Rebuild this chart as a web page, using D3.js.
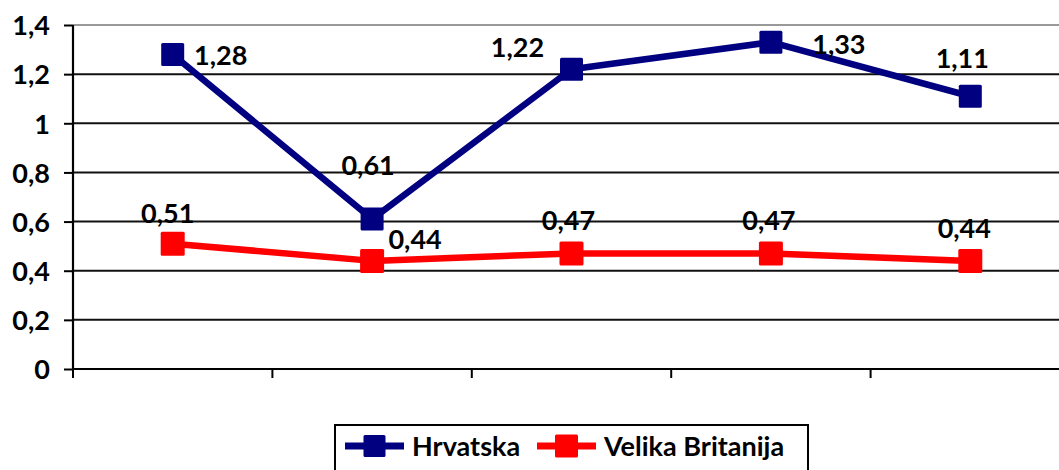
<!DOCTYPE html>
<html>
<head>
<meta charset="utf-8">
<script src="https://cdn.jsdelivr.net/npm/d3@7"></script>
<style>
  html, body { margin: 0; padding: 0; background: #fff; }
  svg { display: block; }
  text { font-family: Lato, "Open Sans", sans-serif; font-weight: bold; fill: #000; }
</style>
</head>
<body>
<svg id="chart" width="1059" height="470"></svg>
<script>
// ---- data ----
const categories = ["1", "2", "3", "4", "5"];
const hrvatska = [1.28, 0.61, 1.22, 1.33, 1.11];
const britanija = [0.51, 0.44, 0.47, 0.47, 0.44];
const seriesNames = ["Hrvatska", "Velika Britanija"];
const yTicks = [0, 0.2, 0.4, 0.6, 0.8, 1, 1.2, 1.4];

// label placement offsets (styling, px relative to marker centre)
const hrvLabelOffsets = [[48, 1], [-4, -54], [-54, -22], [68, 2], [-8, -38]];
const vbLabelOffsets  = [[-5, -30], [43, -22], [-3, -33], [-2, -33], [-6, -33]];

const svg = d3.select("#chart");
const W = 1059, H = 470;
const mLeft = 73, mRight = 1070, mTop = 25, mBottom = 369;
const FS = "27px";

const x = d3.scaleBand().domain(categories).range([mLeft, mRight]).padding(0);
const y = d3.scaleLinear().domain([0, 1.4]).range([mBottom, mTop]);
const fmt = v => String(v).replace(".", ",");

// gridlines
svg.append("g").selectAll("line")
  .data(yTicks.filter(t => t > 0))
  .join("line")
  .attr("x1", mLeft).attr("x2", W)
  .attr("y1", d => y(d)).attr("y2", d => y(d))
  .attr("stroke", d => d === 1.4 ? "#999" : "#111")
  .attr("stroke-width", 2);

// y axis
const yAxis = d3.axisLeft(y).tickValues(yTicks).tickSize(9).tickPadding(14).tickFormat(fmt);
const gy = svg.append("g").attr("transform", `translate(${mLeft},0)`).call(yAxis);
gy.select(".domain").attr("stroke", "#000").attr("stroke-width", 2.2).attr("d", `M0,${mTop}V${mBottom}`);
gy.selectAll(".tick line").attr("stroke", "#000").attr("stroke-width", 2);
gy.selectAll(".tick text").style("font-size", FS).style("font-family", "Lato, sans-serif").style("font-weight", "bold").attr("fill", "#000").attr("dy", "0.36em");

// x axis (no labels), ticks at category boundaries
const boundaries = categories.map(c => x(c));
const gx = svg.append("g");
gx.append("line").attr("x1", mLeft).attr("x2", W).attr("y1", mBottom).attr("y2", mBottom)
  .attr("stroke", "#000").attr("stroke-width", 2.2);
gx.selectAll("line.tk").data(boundaries).join("line").attr("class", "tk")
  .attr("x1", d => d).attr("x2", d => d).attr("y1", mBottom).attr("y2", mBottom + 9)
  .attr("stroke", "#000").attr("stroke-width", 2);

const cx = c => x(c) + x.bandwidth() / 2;

function drawSeries(values, color, size, offsets) {
  const line = d3.line().x((d, i) => cx(categories[i])).y(d => y(d));
  svg.append("path").datum(values).attr("d", line)
    .attr("fill", "none").attr("stroke", color).attr("stroke-width", 6.5).attr("stroke-linejoin", "round");
  svg.append("g").selectAll("rect").data(values).join("rect")
    .attr("x", (d, i) => cx(categories[i]) - size / 2)
    .attr("y", d => y(d) - size / 2)
    .attr("width", size).attr("height", size)
    .attr("rx", 1.5)
    .attr("fill", color);
  svg.append("g").selectAll("text").data(values).join("text")
    .attr("x", (d, i) => cx(categories[i]) + offsets[i][0])
    .attr("y", (d, i) => y(d) + offsets[i][1])
    .attr("text-anchor", "middle").attr("dy", "0.36em")
    .style("font-size", FS)
    .text(fmt);
}

drawSeries(hrvatska, "#000080", 23, hrvLabelOffsets);
drawSeries(britanija, "#ff0000", 24, vbLabelOffsets);

// legend
const lg = svg.append("g");
lg.append("rect").attr("x", 335).attr("y", 425).attr("width", 473).attr("height", 60)
  .attr("fill", "#fff").attr("stroke", "#000").attr("stroke-width", 2);
const legendItems = [
  { name: seriesNames[0], color: "#000080", x0: 345, size: 22 },
  { name: seriesNames[1], color: "#ff0000", x0: 537, size: 23 }
];
const ly = 446;
legendItems.forEach(it => {
  lg.append("line").attr("x1", it.x0).attr("x2", it.x0 + 59).attr("y1", ly).attr("y2", ly)
    .attr("stroke", it.color).attr("stroke-width", 7);
  lg.append("rect").attr("x", it.x0 + 29.5 - it.size / 2).attr("y", ly - it.size / 2)
    .attr("width", it.size).attr("height", it.size).attr("rx", 1.5).attr("fill", it.color);
  lg.append("text").attr("x", it.x0 + 67).attr("y", ly).attr("dy", "0.36em")
    .style("font-size", FS).text(it.name);
});
</script>
</body>
</html>
